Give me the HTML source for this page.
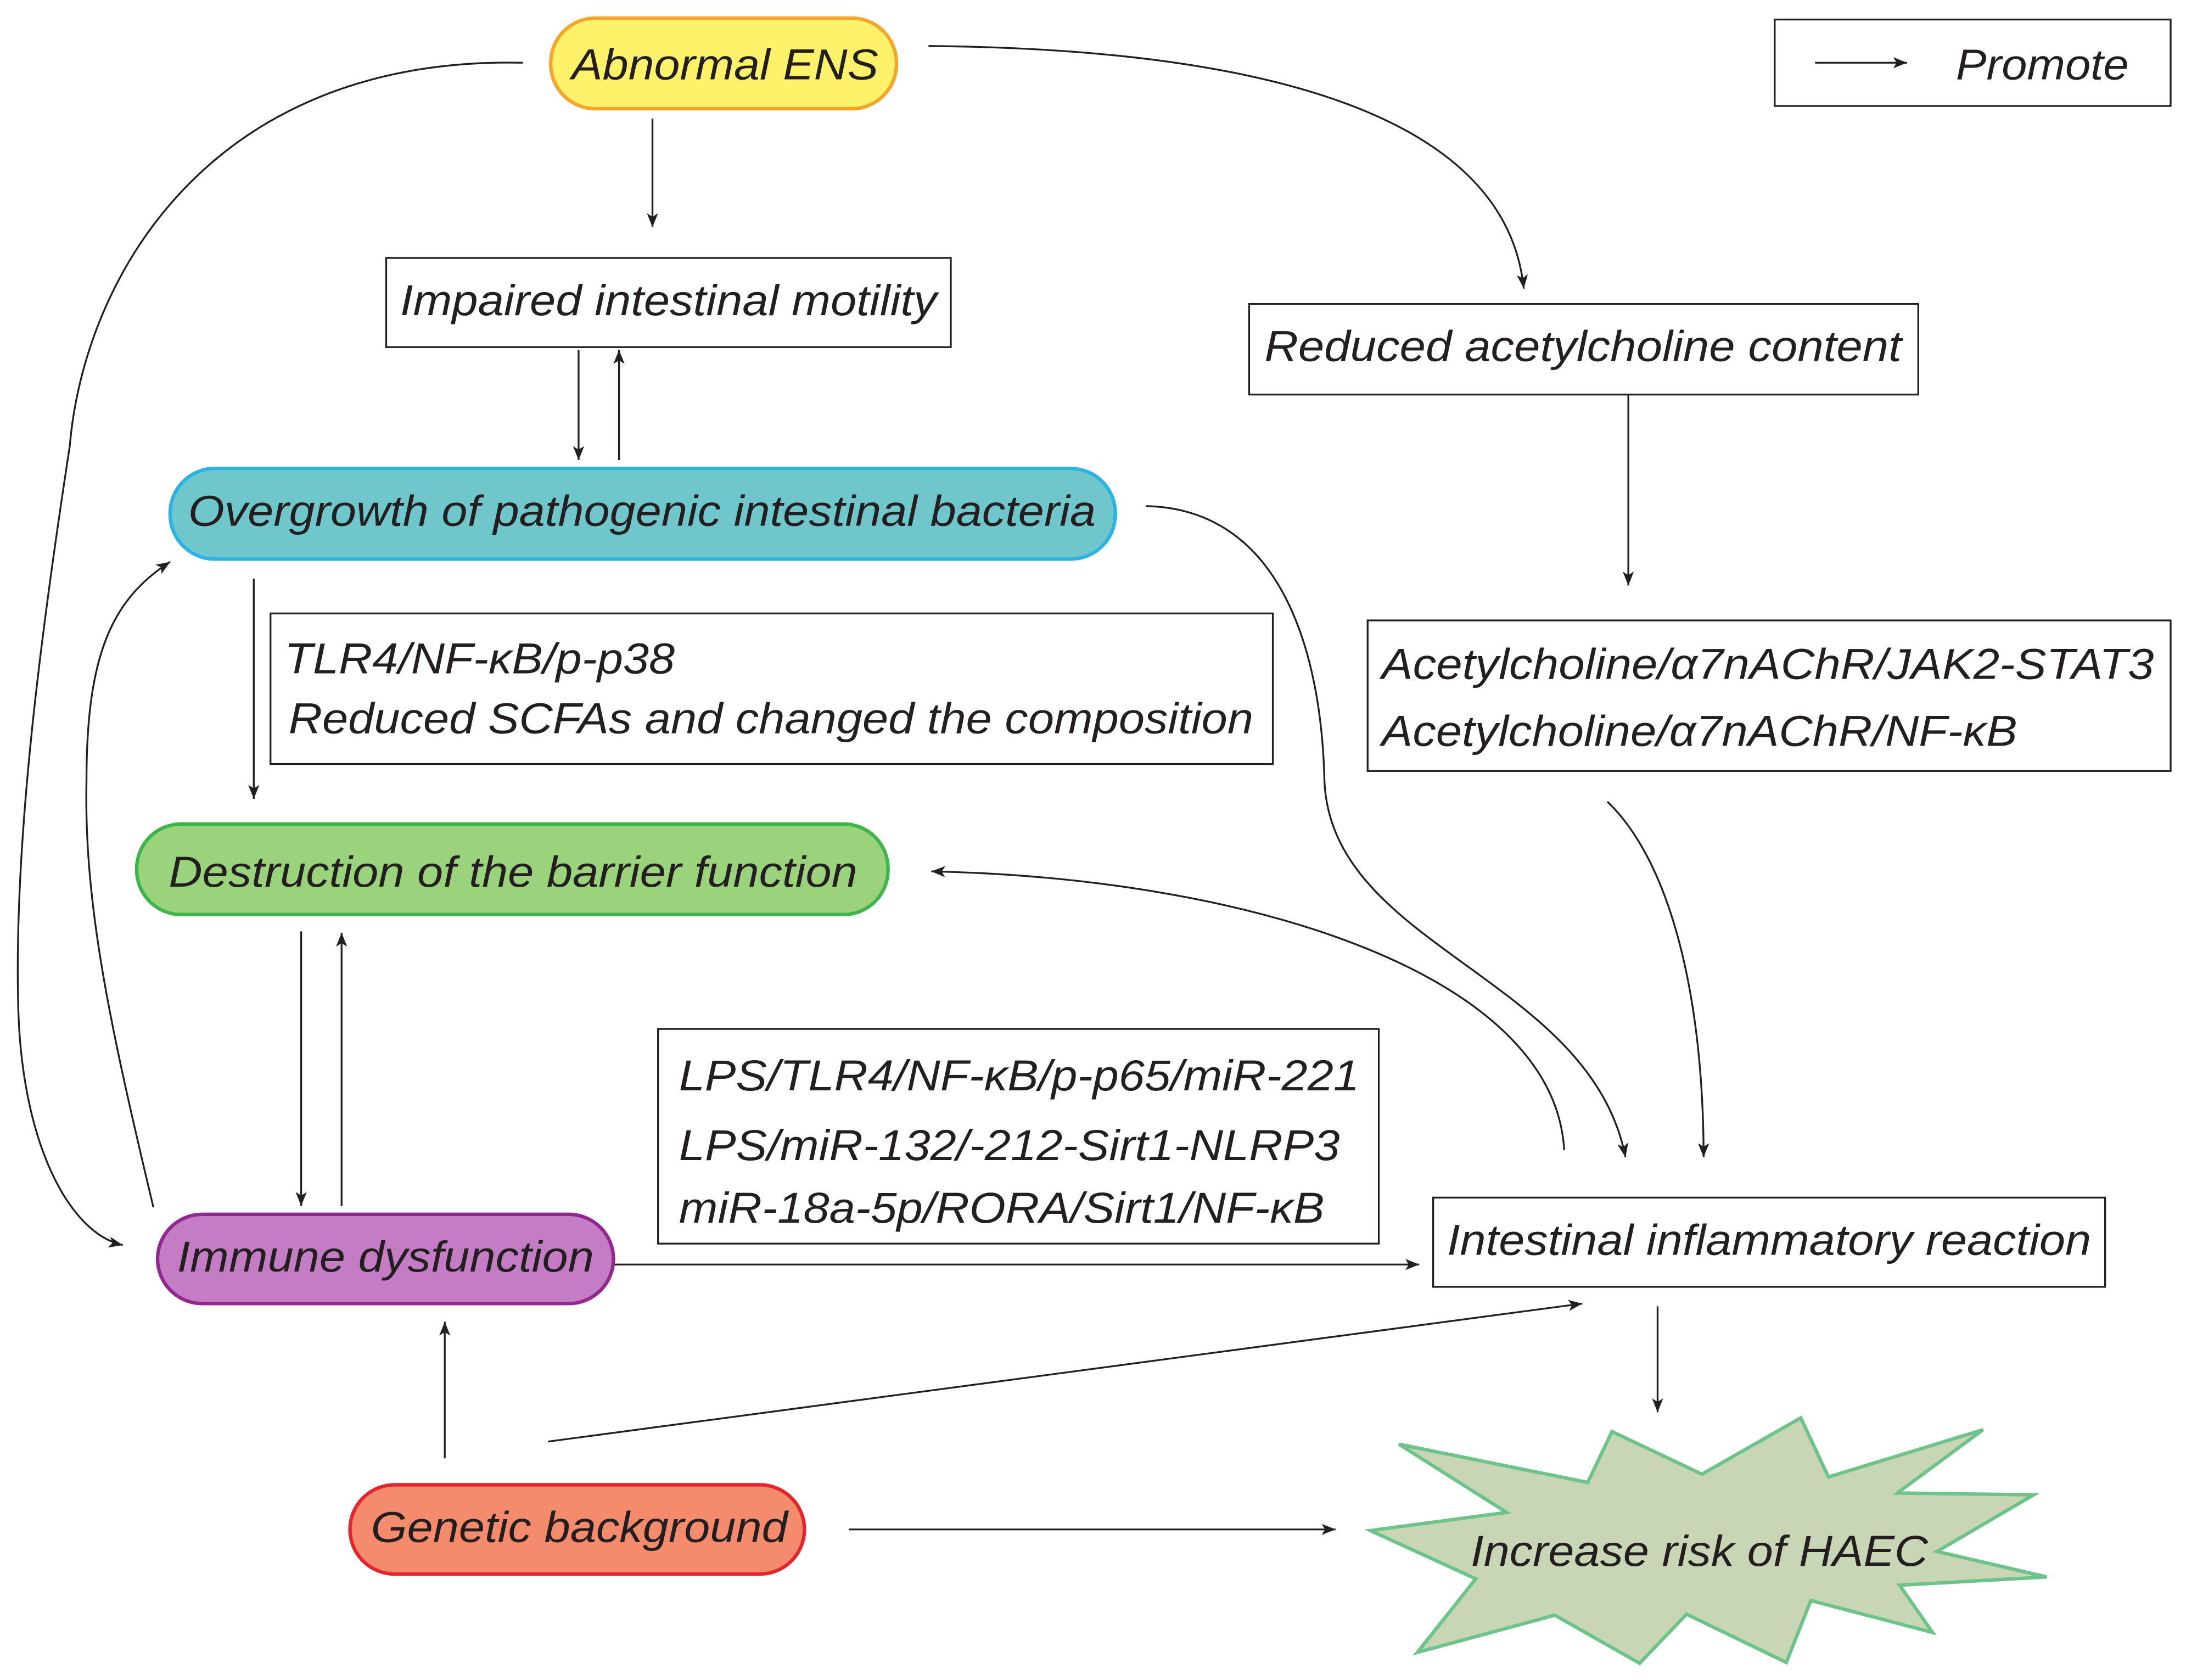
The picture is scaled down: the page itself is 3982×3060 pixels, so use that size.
<!DOCTYPE html>
<html><head><meta charset="utf-8"><style>
html,body{margin:0;padding:0;background:#fff;}
svg{display:block;}
text{font-family:"Liberation Sans",sans-serif;font-style:italic;font-size:31px;fill:#231f20;}
</style></head><body>
<svg width="3982" height="3060" viewBox="0 0 1568 1205" xmlns="http://www.w3.org/2000/svg">
<defs>
<marker id="a" viewBox="0 0 10 10" refX="10" refY="5" markerWidth="10" markerHeight="10" markerUnits="userSpaceOnUse" orient="auto">
<path d="M0,1 L10,5 L0,9 L2.5,5 z" fill="#231f20"/>
</marker>
</defs>
<g fill="none" stroke="#231f20" stroke-width="1.3">
<!-- boxes -->
<rect x="1273" y="14" width="284" height="62"/>
<rect x="277" y="185" width="405" height="64"/>
<rect x="896" y="218" width="480" height="65"/>
<rect x="194" y="440" width="719" height="108"/>
<rect x="981" y="445" width="576" height="108"/>
<rect x="472" y="738" width="517" height="154"/>
<rect x="1028" y="859" width="482" height="64"/>
<!-- connectors -->
<g marker-end="url(#a)">
<line x1="1302" y1="45" x2="1368" y2="45"/>
<line x1="468" y1="85" x2="468" y2="163"/>
<path d="M666,33 C900,35 1080,80 1093,207"/>
<line x1="415" y1="251" x2="415" y2="330"/>
<line x1="444" y1="330" x2="444" y2="251"/>
<line x1="1168" y1="283" x2="1168" y2="420"/>
<line x1="182" y1="415" x2="182" y2="573"/>
<path d="M822,363 C920,365 948,470 950,560 C955,680 1140,700 1166,830"/>
<path d="M1153,575 C1200,620 1222,720 1222,830"/>
<path d="M1122,825 C1115,700 900,630 668,625"/>
<line x1="216" y1="668" x2="216" y2="865"/>
<line x1="245" y1="865" x2="245" y2="669"/>
<line x1="440" y1="907" x2="1018" y2="907"/>
<line x1="1189" y1="937" x2="1189" y2="1013"/>
<path d="M375,45 C150,40 60,200 50,320 C30,450 10,600 13,720 C15,820 50,885 88,893"/>
<path d="M110,866 C80,740 60,650 62,560 C62,470 80,430 122,403"/>
<line x1="319" y1="1046" x2="319" y2="948"/>
<line x1="393" y1="1034" x2="1135" y2="935"/>
<line x1="609" y1="1097" x2="958" y2="1097"/>
</g>
</g>
<!-- pills -->
<rect x="395" y="13" width="248" height="65" rx="32" fill="#FFF26B" stroke="#F7A42A" stroke-width="2.5"/>
<rect x="122" y="336" width="678" height="65" rx="32" fill="#6FC7CB" stroke="#2AB4E6" stroke-width="2.5"/>
<rect x="98" y="591" width="539" height="65" rx="32" fill="#9BD27C" stroke="#3DB54A" stroke-width="2.5"/>
<rect x="113" y="871" width="327" height="64" rx="32" fill="#C47CC4" stroke="#92278F" stroke-width="2.5"/>
<rect x="251" y="1065" width="326" height="64" rx="32" fill="#F58B6D" stroke="#E5242B" stroke-width="2.5"/>
<polygon points="1003.5,1035.9 1138.9,1063.3 1156.3,1026.8 1220.8,1057.4 1291.7,1017 1311.5,1059.4 1422.4,1025.5 1361,1070.9 1458.7,1072.2 1389.4,1112.8 1468.1,1131.1 1362.6,1137 1386.2,1170.9 1298.9,1148 1281.3,1192.4 1209.8,1157.8 1176.1,1193 1115.3,1158.5 1016.7,1185.2 1058.6,1132.4 983,1097.8 1080.7,1084.8" fill="#C8D6B6" stroke="#6CC48A" stroke-width="2.5"/>
<!-- text -->
<text x="410" y="57" textLength="220" lengthAdjust="spacingAndGlyphs">Abnormal ENS</text>
<text x="1403" y="57" textLength="124" lengthAdjust="spacingAndGlyphs">Promote</text>
<text x="287" y="226" textLength="385" lengthAdjust="spacingAndGlyphs">Impaired intestinal motility</text>
<text x="907" y="259" textLength="457" lengthAdjust="spacingAndGlyphs">Reduced acetylcholine content</text>
<text x="135" y="377" textLength="651" lengthAdjust="spacingAndGlyphs">Overgrowth of pathogenic intestinal bacteria</text>
<text x="204" y="483" textLength="280" lengthAdjust="spacingAndGlyphs">TLR4/NF-κB/p-p38</text>
<text x="207" y="526" textLength="692" lengthAdjust="spacingAndGlyphs">Reduced SCFAs and changed the composition</text>
<text x="991" y="487" textLength="554" lengthAdjust="spacingAndGlyphs">Acetylcholine/α7nAChR/JAK2-STAT3</text>
<text x="991" y="535" textLength="456" lengthAdjust="spacingAndGlyphs">Acetylcholine/α7nAChR/NF-κB</text>
<text x="121" y="636" textLength="494" lengthAdjust="spacingAndGlyphs">Destruction of the barrier function</text>
<text x="487" y="782" textLength="488" lengthAdjust="spacingAndGlyphs">LPS/TLR4/NF-κB/p-p65/miR-221</text>
<text x="487" y="832" textLength="474" lengthAdjust="spacingAndGlyphs">LPS/miR-132/-212-Sirt1-NLRP3</text>
<text x="487" y="877" textLength="463" lengthAdjust="spacingAndGlyphs">miR-18a-5p/RORA/Sirt1/NF-κB</text>
<text x="127" y="912" textLength="299" lengthAdjust="spacingAndGlyphs">Immune dysfunction</text>
<text x="1038" y="900" textLength="462" lengthAdjust="spacingAndGlyphs">Intestinal inflammatory reaction</text>
<text x="266" y="1106" textLength="299" lengthAdjust="spacingAndGlyphs">Genetic background</text>
<text x="1055" y="1123" textLength="328" lengthAdjust="spacingAndGlyphs">Increase risk of HAEC</text>
</svg>
</body></html>
